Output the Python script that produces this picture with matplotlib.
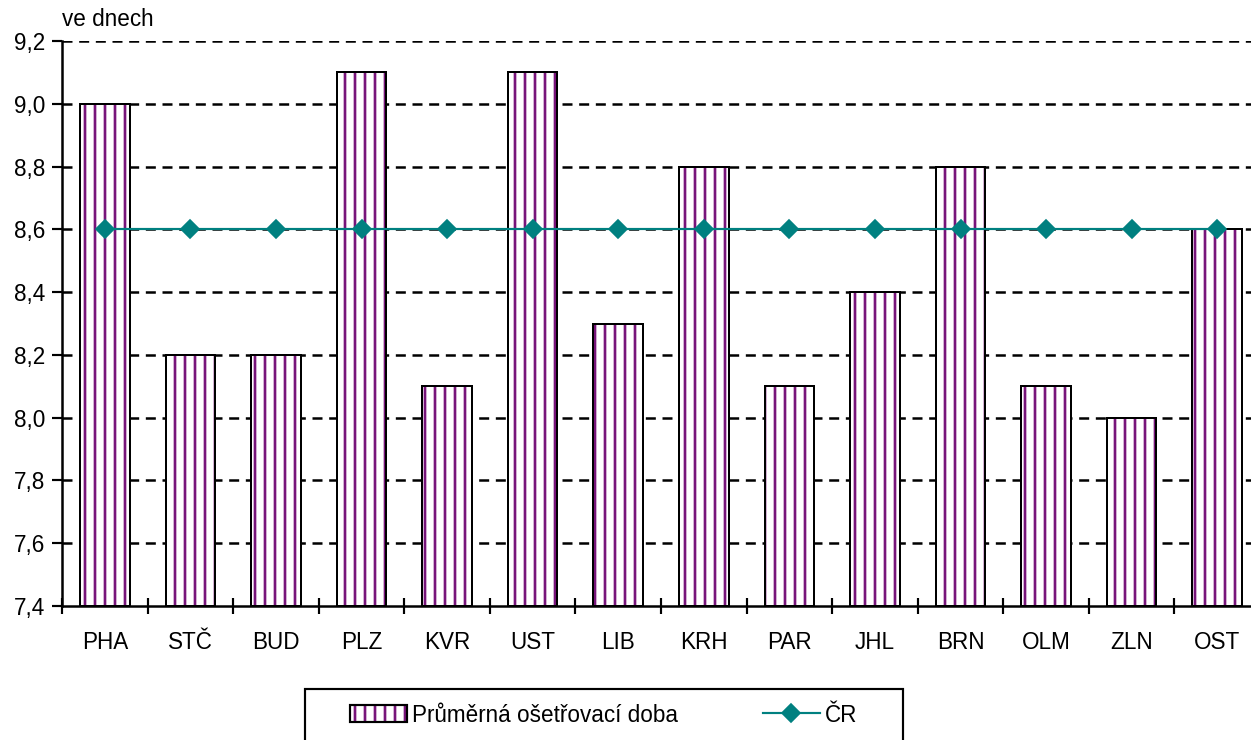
import matplotlib
matplotlib.use("Agg")
import matplotlib.pyplot as plt
import numpy as np
from matplotlib.lines import Line2D
from matplotlib.patches import Patch, Rectangle
from matplotlib.legend_handler import HandlerTuple

categories = ["PHA", "STČ", "BUD", "PLZ", "KVR", "UST", "LIB", "KRH", "PAR", "JHL", "BRN", "OLM", "ZLN", "OST"]
avg_days = [9.0, 8.2, 8.2, 9.1, 8.1, 9.1, 8.3, 8.8, 8.1, 8.4, 8.8, 8.1, 8.0, 8.6]
cr_values = [8.6] * 14
yticks = [7.4, 7.6, 7.8, 8.0, 8.2, 8.4, 8.6, 8.8, 9.0, 9.2]
bar_label = "Průměrná ošetřovací doba"
line_label = "ČR"
unit_label = "ve dnech"

DPI = 120
PURPLE = '#78147a'
TEAL = '#008080'
FS = 13.5
plt.rcParams['font.family'] = ['Liberation Sans', 'DejaVu Sans']
plt.rcParams['hatch.linewidth'] = 1.6
plt.rcParams['lines.scale_dashes'] = False

W, H = 1251, 740
fig = plt.figure(figsize=(W / DPI, H / DPI), dpi=DPI)
L, R, B, T = 62 / W, 1260 / W, 1 - 606 / H, 1 - 41 / H
ax = fig.add_axes([L, B, R - L, T - B])

x = np.arange(len(categories))
heights = [v - 7.4 for v in avg_days]
ax.bar(x, heights, bottom=7.4, width=0.58, color='white',
       edgecolor=PURPLE, linewidth=0, hatch='||', zorder=2)
ax.bar(x, heights, bottom=7.4, width=0.58, fill=False,
       edgecolor='black', linewidth=1.2, zorder=2.1)
ax.plot(x, cr_values, color=TEAL, linewidth=1.3, marker='D', markersize=8,
        markerfacecolor=TEAL, markeredgecolor=TEAL, zorder=3)

ax.set_xlim(-0.5, len(categories) - 0.5)
ax.set_ylim(7.4, 9.2)
ax.set_yticks(yticks)
ax.set_yticklabels([f"{v:.1f}".replace('.', ',') for v in yticks])
ax.set_xticks(x)
ax.set_xticklabels(categories)
ax.set_xticks(np.arange(-0.5, len(categories), 1), minor=True)
ax.tick_params(axis='x', which='major', length=0, pad=15, labelsize=FS)
ax.tick_params(axis='x', which='minor', length=10, width=1.3, direction='inout')
ax.tick_params(axis='y', length=6, width=1.3, direction='out', labelsize=FS, pad=4)

for y in yticks[1:]:
    ax.axhline(y, color='black', linewidth=1.5, dashes=(6, 4), zorder=1)

for s in ['top', 'right']:
    ax.spines[s].set_visible(False)
ax.spines['left'].set_linewidth(1.5)
ax.spines['bottom'].set_linewidth(1.5)

fig.text(62 / W, 1 - 20 / H, unit_label, fontsize=FS, ha='left', va='center')

# legend frame (extends past the bottom edge, as in the reference)
fig.patches.append(Rectangle((305 / W, 1 - 760 / H), 598 / W, 71 / H,
                             transform=fig.transFigure, facecolor='white',
                             edgecolor='black', linewidth=1.3, zorder=0))

hatch_handle = (Patch(facecolor='white', edgecolor=PURPLE, hatch='||', linewidth=0),
                Patch(fill=False, edgecolor='black', linewidth=1.3))
line_handle = Line2D([0], [0], color=TEAL, linewidth=1.3, marker='D', markersize=8)
leg = fig.legend([hatch_handle, line_handle], [bar_label, line_label],
                 handler_map={tuple: HandlerTuple(ndivide=1, pad=0)},
                 loc='center left', bbox_to_anchor=(350 / W, 1 - 715 / H), ncol=2,
                 fontsize=FS, frameon=False, borderpad=0, borderaxespad=0,
                 columnspacing=3.75, handlelength=2.55, handletextpad=0.22,
                 handleheight=0.75)

fig.savefig("out.png", dpi=DPI)
